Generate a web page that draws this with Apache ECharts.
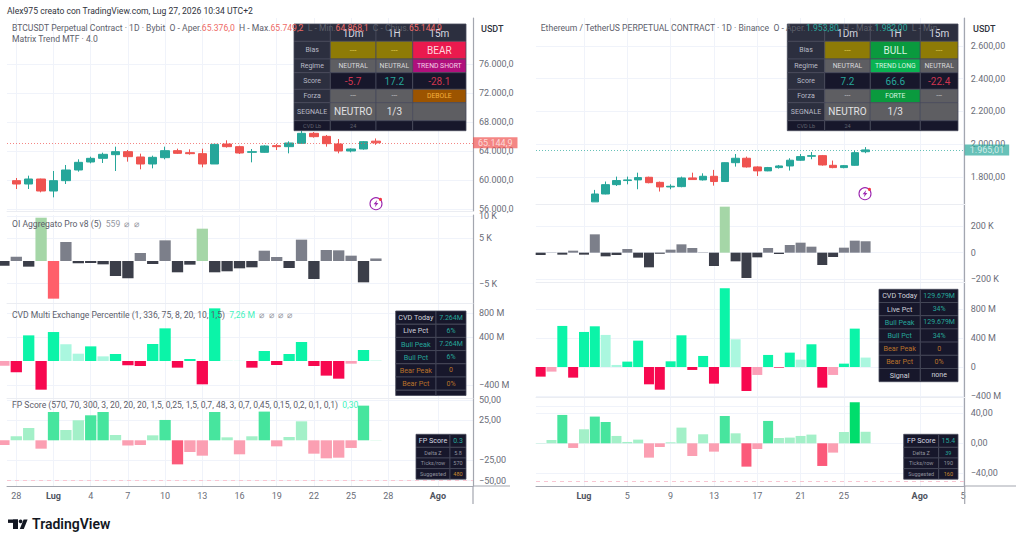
<!DOCTYPE html>
<html>
<head>
<meta charset="utf-8">
<title>BTCUSDT / ETHUSDT</title>
<script src="https://cdn.jsdelivr.net/npm/echarts@6/dist/echarts.min.js"></script>
<style>
  html, body { margin: 0; padding: 0; background: #fff; }
  #chart { width: 1024px; height: 544px; }
</style>
</head>
<body>
<div id="chart"></div>
<script>
// ---- Date axis ticks, counted in days from the first labelled day of each panel
const btcDateTicks = [0, 3, 6, 9, 12, 15, 18, 21, 24, 27, 30, 34];
const btcDateLabels = ['28', 'Lug', '4', '7', '10', '13', '16', '19', '22', '25', '28', 'Ago'];
const ethDateTicks = [0, 4, 8, 12, 16, 20, 24, 31, 35];
const ethDateLabels = ['Lug', '5', '9', '13', '17', '21', '25', 'Ago', '5'];

// ---- BTCUSDT daily candles [open, close, low, high], first candle is day 0
const btcCandles = [
  [59908, 59446, 58754, 60277],
  [59446, 60138, 58754, 60600],
  [60138, 58477, 58293, 60185],
  [58477, 59908, 57601, 61246],
  [59908, 61384, 59446, 62076],
  [61384, 62445, 61154, 62861],
  [62492, 62999, 62307, 63230],
  [62999, 63553, 62353, 63783],
  [63507, 63922, 61246, 64614],
  [63922, 63230, 62538, 64153],
  [63184, 62215, 61477, 63645],
  [62215, 63138, 61615, 63368],
  [63091, 64060, 62861, 64614],
  [64060, 63691, 63599, 64337],
  [63783, 63645, 63507, 64245],
  [63645, 62215, 61753, 64337],
  [62215, 64937, 62215, 64937],
  [64983, 64614, 64476, 65491],
  [64614, 63737, 63599, 64752],
  [63830, 63922, 62445, 64291],
  [63830, 64706, 63783, 64799],
  [64752, 64614, 64153, 64983],
  [64614, 65122, 63691, 65352],
  [65075, 66460, 65029, 66829],
  [66460, 65998, 65860, 66644],
  [66044, 65029, 64614, 66229],
  [64983, 64014, 63691, 65675],
  [64014, 64291, 63830, 64383],
  [64291, 65306, 64199, 65398],
  [65376.0, 65144.9, 64868.1, 65749.2]
];

// ---- ETHUSDT daily candles [open, close, low, high], first candle is day 1
const ethCandles = [
  [1648, 1696, 1648, 1721],
  [1696, 1753, 1694, 1772],
  [1753, 1778, 1745, 1802],
  [1778, 1782, 1755, 1802],
  [1782, 1796, 1725, 1826],
  [1798, 1765, 1761, 1802],
  [1767, 1739, 1711, 1772],
  [1739, 1743, 1725, 1755],
  [1741, 1794, 1737, 1802],
  [1794, 1784, 1782, 1826],
  [1782, 1804, 1778, 1822],
  [1804, 1772, 1747, 1843],
  [1772, 1887, 1770, 1889],
  [1887, 1914, 1863, 1940],
  [1914, 1861, 1857, 1924],
  [1861, 1837, 1806, 1865],
  [1837, 1857, 1835, 1861],
  [1857, 1867, 1851, 1873],
  [1867, 1902, 1839, 1914],
  [1902, 1924, 1898, 1940],
  [1926, 1930, 1908, 1952],
  [1930, 1873, 1869, 1934],
  [1871, 1857, 1853, 1900],
  [1857, 1869, 1853, 1873],
  [1871, 1948, 1869, 1961],
  [1953.80, 1965.01, 1945, 1982.00]
];

// ---- BTCUSDT indicator histograms, first bar is day -1
const btcOi = [-1030, 960, -1250, 9580, -8330, 4200, -500, -440, -740, -3320, -3830, 1770, -660, 4570, -2500, -810, 7150, -2500, -2280, -1620, -1400, 2280, 880, -1550, 4720, -3980, 2430, 2360, 1180, -4720, 559];
const btcCvd = [-80, -190, 431, -482, 487, 280, 123, 246, 78, 118, -73, -84, 286, 549, -112, 34, -392, 885, 4, 3, -112, 168, -67, 118, 319, -84, -246, -297, -45, 185, 7.26];
const btcCvdFaded = [0, 5, 6, 8, 18, 19, 28, 30];
const btcFp = [-5.8, 5, 15.3, -10.4, 35.2, 12.9, 24.9, 31.1, 35.2, 6.6, -6.6, -5.8, 6.2, 25.3, -29.9, -14.5, -19.1, 35.2, 3.7, -17.4, 5, 35.7, -7.5, 4.1, 23.6, -16.6, -22.4, -21.6, -9.5, 43.1, 0.30];

// ---- ETHUSDT indicator histograms, first bar is day -4
const ethOi = [-17.5, 2, -15, 15, -15, 137.5, -27.5, -17.5, 27.5, -37.5, -110, -8, 22.5, 62.5, 35, 2.5, -100, 345, -65, -190, -35, 35, -10, 57.5, 75, 45, -92.5, -32.5, 37.5, 90, 85.58];
const ethCvd = [-133, -64, 566, -147, 483, 561, 442, 28, 74, 363, -239, -313, 78, 437, -41, 152, -230, 1086, 382, -331, -110, 166, -9, 198, 101, 313, -285, -110, 46, 529, 129.68];
const ethCvdFaded = [1, 6, 7, 18, 20, 24, 27, 30];
const ethFp = [0.4, 4.4, 37.8, -6.2, 18.7, 35.6, 28.4, 9.8, 1.8, 4.9, -19.1, -4.9, 1.3, 20.9, -16.9, 12, -11.1, 36.4, 13.3, -31.1, -7.6, 29.8, 7.1, 7.6, 9.8, 11.6, -30.2, -12.4, 15.1, 54.7, 15.37];

// ---- Price scale tick values and labels
const btcPriceTicks = [76000, 72000, 68000, 64000, 60000, 56000];
const btcPriceLabels = ['76.000,0', '72.000,0', '68.000,0', '64.000,0', '60.000,0', '56.000,0'];
const btcOiTicks = [10000, 5000, -5000];
const btcOiLabels = ['10 K', '5 K', '\u22125 K'];
const btcCvdTicks = [800, 400, -400];
const btcCvdLabels = ['800 M', '400 M', '\u2212400 M'];
const btcFpTicks = [50, 25, -25, -50];
const btcFpLabels = ['50,00', '25,00', '\u221225,00', '\u221250,00'];
const ethPriceTicks = [2600, 2400, 2200, 2000, 1800];
const ethPriceLabels = ['2.600,00', '2.400,00', '2.200,00', '2.000,00', '1.800,00'];
const ethOiTicks = [200, 0, -200];
const ethOiLabels = ['200 K', '0', '\u2212200 K'];
const ethCvdTicks = [800, 400, 0, -400];
const ethCvdLabels = ['800 M', '400 M', '0', '\u2212400 M'];
const ethFpTicks = [40, 0, -40];
const ethFpLabels = ['40,00', '0,00', '\u221240,00'];
const ethFpGrid = [50, 40, 0, -40];

// ---- Status tables
const btcMatrix = [
  ['', '1Dm', '1H', '15m'],
  ['Bias', '---', '---', 'BEAR'],
  ['Regime', 'NEUTRAL', 'NEUTRAL', 'TREND SHORT'],
  ['Score', '-5.7', '17.2', '-28.1'],
  ['Forza', '---', '---', 'DEBOLE'],
  ['SEGNALE', 'NEUTRO', '1/3', ''],
  ['CVD Lb', '24', '', '']
];
const ethMatrix = [
  ['', '1Dm', '1H', '15m'],
  ['Bias', '---', 'BULL', '---'],
  ['Regime', 'NEUTRAL', 'TREND LONG', 'NEUTRAL'],
  ['Score', '7.2', '66.6', '-22.4'],
  ['Forza', '---', 'FORTE', '---'],
  ['SEGNALE', 'NEUTRO', '1/3', ''],
  ['CVD Lb', '24', '', '']
];
const btcCvdTable = [
  ['CVD Today', '7.264M'], ['Live Pct', '6%'], ['Bull Peak', '7.264M'],
  ['Bull Pct', '6%'], ['Bear Peak', '0'], ['Bear Pct', '0%'], ['', '']
];
const ethCvdTable = [
  ['CVD Today', '129.679M'], ['Live Pct', '34%'], ['Bull Peak', '129.679M'],
  ['Bull Pct', '34%'], ['Bear Peak', '0'], ['Bear Pct', '0%'], ['Signal', 'none']
];
const btcFpTable = [['FP Score', '0.3'], ['Delta Z', '5.8'], ['Ticks/row', '570'], ['Suggested', '480']];
const ethFpTable = [['FP Score', '15.4'], ['Delta Z', '39'], ['Ticks/row', '190'], ['Suggested', '160']];

// ---- Text
const FONT = 'Roboto, Inter, sans-serif';
const GREY = '#5d606b';
const UP = '#26a69a';
const DOWN = '#ef5350';
const AXIS_SIZE = 9;
const LEGEND_SIZE = 8.6;

const option = { animation: false, backgroundColor: '#fff', grid: [], xAxis: [], yAxis: [], series: [], graphic: [] };
const gfx = option.graphic;

function addPane(p) {
  const idx = option.grid.length;
  const m = p.frame;
  option.grid.push({ left: m.left, top: p.top, width: m.right - m.left, height: p.bottom - p.top });
  option.xAxis.push({
    type: 'value', gridIndex: idx, min: m.min, max: m.max, scale: true,
    axisLine: { show: true, onZero: false, lineStyle: { color: p.last ? '#a3a6af' : '#ebedf2', width: 1 } },
    axisTick: { show: false, customValues: m.ticks },
    splitLine: { show: true, lineStyle: { color: '#f0f3fa', width: 1 } },
    axisLabel: {
      show: !!p.last, customValues: m.ticks, margin: 5, fontFamily: FONT, fontSize: AXIS_SIZE, color: '#6a6d78',
      formatter: v => {
        const t = m.labels[m.ticks.indexOf(v)] || '';
        return t === 'Lug' || t === 'Ago' ? '{b|' + t + '}' : t;
      },
      rich: { b: { fontFamily: FONT, fontSize: AXIS_SIZE, fontWeight: 700, color: '#50535e' } }
    }
  });
  option.yAxis.push({
    type: 'value', gridIndex: idx, position: 'right', min: p.min, max: p.max, scale: true,
    axisLine: { show: true, onZero: false, lineStyle: { color: '#a3a6af', width: 1.2 } },
    axisTick: { show: false, customValues: p.grid || p.ticks },
    splitLine: { show: true, lineStyle: { color: '#f0f3fa', width: 1 } },
    axisLabel: {
      customValues: p.ticks, margin: 6, fontFamily: FONT, fontSize: AXIS_SIZE,
      color: v => (v === 60000 ? '#33363f' : '#6a6d78'),
      formatter: v => p.labels[p.ticks.indexOf(v)]
    }
  });
  return idx;
}

function badge(value, text, bg, fg) {
  return {
    yAxis: value,
    lineStyle: { opacity: 0 },
    label: {
      show: true, position: 'end', distance: 0, formatter: text, backgroundColor: bg, color: fg,
      fontFamily: FONT, fontSize: AXIS_SIZE, padding: [1, 5, 1, 5], lineHeight: 9
    }
  };
}

function candles(idx, rows, firstDay, width, lastBg, lastText) {
  const last = rows[rows.length - 1];
  option.series.push({
    type: 'candlestick', xAxisIndex: idx, yAxisIndex: idx, barWidth: width, silent: true,
    encode: { x: 0, y: [1, 2, 3, 4] },
    itemStyle: { color: UP, color0: DOWN, borderColor: UP, borderColor0: DOWN, borderWidth: 1 },
    data: rows.map((c, i) => [firstDay + i].concat(c)),
    markLine: {
      silent: true, symbol: 'none', animation: false, label: { show: false },
      data: [{
        yAxis: last[1],
        lineStyle: { type: [1, 2], color: lastBg, width: 1, opacity: 0.7 },
        label: {
          show: true, position: 'end', distance: 0, formatter: lastText, backgroundColor: lastBg, color: '#fff',
          fontFamily: FONT, fontSize: AXIS_SIZE, padding: [1, 5, 1, 5], lineHeight: 9
        }
      }]
    }
  });
}

function bars(idx, values, firstDay, width, colorOf, marks) {
  option.series.push({
    type: 'bar', xAxisIndex: idx, yAxisIndex: idx, barWidth: width, silent: true,
    data: values.map((v, i) => ({ value: [firstDay + i, v], itemStyle: { color: colorOf(v, i) } })),
    markLine: { silent: true, symbol: 'none', animation: false, label: { show: false }, data: marks }
  });
}

const oiColor = limit => v => v > limit ? '#a5d6a7' : v < -limit ? '#ff5f6a' : v >= 0 ? '#7c7f8a' : '#3b3e49';
const cvdColor = faded => (v, i) => faded.includes(i)
  ? (v >= 0 ? '#aaf7df' : '#fba0b8')
  : (v >= 0 ? '#0bf4a8' : '#f7084f');
const fpColor = v => v >= 50 ? '#00dd6c' : v >= 25 ? '#47e59e' : v >= 0 ? '#a3f0c8' : v <= -25 ? '#fb5a7a' : '#fb9fb2';
const fpFloor = () => ({ yAxis: -50, lineStyle: { type: [4, 4], color: '#f8c6d2', width: 1 } });

// ---- Left panel: BTCUSDT
const btcFrame = { left: 7, right: 473, min: -0.75, max: 36.83, ticks: btcDateTicks, labels: btcDateLabels };
const btcPrice = addPane({ frame: btcFrame, top: 18, bottom: 211, min: 55709, max: 82422, ticks: btcPriceTicks, labels: btcPriceLabels });
candles(btcPrice, btcCandles, 0, 9, DOWN, '65.144,9');
const btcOiPane = addPane({ frame: btcFrame, top: 215, bottom: 303, min: -9292, max: 10177, ticks: btcOiTicks, labels: btcOiLabels });
bars(btcOiPane, btcOi, -1, 11.3, oiColor(5000), [badge(559, '559', '#7c7f8a', '#fff')]);
const btcCvdPane = addPane({ frame: btcFrame, top: 303, bottom: 398, min: -622, max: 975, ticks: btcCvdTicks, labels: btcCvdLabels });
bars(btcCvdPane, btcCvd, -1, 11.3, cvdColor(btcCvdFaded), [badge(7.26, '7,26 M', '#0bf4a8', '#17323a')]);
const btcFpPane = addPane({ frame: btcFrame, top: 398, bottom: 486, min: -56.8, max: 52.6, ticks: btcFpTicks, labels: btcFpLabels, last: true });
bars(btcFpPane, btcFp, -1, 11.3, fpColor, [fpFloor(), badge(0.30, '0,30', '#00dd6c', '#17323a')]);

// ---- Right panel: ETHUSDT
const ethFrame = { left: 536, right: 964.7, min: -4.43, max: 35.15, ticks: ethDateTicks, labels: ethDateLabels };
const ethPrice = addPane({ frame: ethFrame, top: 18, bottom: 204, min: 1635, max: 2769.5, ticks: ethPriceTicks, labels: ethPriceLabels });
candles(ethPrice, ethCandles, 1, 8, UP, '1.965,01');
const ethOiPane = addPane({ frame: ethFrame, top: 204, bottom: 282, min: -220, max: 365, ticks: ethOiTicks, labels: ethOiLabels });
bars(ethOiPane, ethOi, -4, 10, oiColor(250), [badge(85.58, '85,58 K', '#7c7f8a', '#fff')]);
const ethCvdPane = addPane({ frame: ethFrame, top: 282, bottom: 397, min: -414, max: 1172, ticks: ethCvdTicks, labels: ethCvdLabels });
bars(ethCvdPane, ethCvd, -4, 10, cvdColor(ethCvdFaded), [badge(129.68, '129,68 M', '#0bf4a8', '#17323a')]);
const ethFpPane = addPane({ frame: ethFrame, top: 397, bottom: 486, min: -56.9, max: 61.7, ticks: ethFpTicks, labels: ethFpLabels, grid: ethFpGrid, last: true });
bars(ethFpPane, ethFp, -4, 10, fpColor, [fpFloor(), badge(15.37, '15,37', '#00dd6c', '#17323a')]);

// ---- Overlay helpers
function text(x, y, content, size, fill, extra) {
  gfx.push({
    type: 'text', x, y, z: (extra && extra.z) || 30, silent: true,
    style: Object.assign({
      text: content, fill, fontFamily: FONT, fontSize: size,
      fontWeight: (extra && extra.weight) || 400,
      textAlign: (extra && extra.align) || 'left', textVerticalAlign: 'middle'
    }, (extra && extra.rich) ? { rich: extra.rich } : {})
  });
}
function box(x, y, w, h, fill, stroke) {
  gfx.push({
    type: 'rect', z: 20, silent: true, shape: { x, y, width: w, height: h },
    style: { fill, stroke: stroke || '#474a5a', lineWidth: 0.8 }
  });
}
function line(x1, y1, x2, y2, color, w) {
  gfx.push({ type: 'line', z: 10, silent: true, shape: { x1, y1, x2, y2 }, style: { stroke: color, lineWidth: w } });
}

const NAVY = '#17172b';
const SLATE = '#2c2f3f';
const ASH = '#5e5e62';

// Colours and sizes of one cell of the multi-timeframe table
function matrixStyle(row, col, t) {
  const name = row[0];
  if (col === 0) return { bg: name === 'CVD Lb' ? NAVY : SLATE, fg: name === 'CVD Lb' ? '#62646f' : '#b9bbc6', size: name === 'CVD Lb' ? 5.5 : 7 };
  if (name === '') return { bg: SLATE, fg: '#d6d8e0', size: 10 };
  if (name === 'Bias') {
    if (t === 'BEAR') return { bg: '#ea1a4e', fg: '#ffd5de', size: 10 };
    if (t === 'BULL') return { bg: '#0a9a3e', fg: '#d8f5e0', size: 10 };
    return { bg: '#8e7b06', fg: '#e3d25a', size: 8 };
  }
  if (name === 'Regime') {
    if (t === 'TREND SHORT') return { bg: '#b0107c', fg: '#f5d0e8', size: 6.8 };
    if (t === 'TREND LONG') return { bg: '#0ab352', fg: '#d8f5e0', size: 6.8 };
    return { bg: ASH, fg: '#d8d8da', size: 6.8 };
  }
  if (name === 'Score') return { bg: NAVY, fg: t.charAt(0) === '-' ? '#cf3550' : UP, size: 10 };
  if (name === 'Forza') {
    if (t === 'DEBOLE') return { bg: '#9c5400', fg: '#f4b03c', size: 6.8 };
    if (t === 'FORTE') return { bg: '#0a9a3e', fg: '#d8f5e0', size: 6.8 };
    return { bg: ASH, fg: '#c8c8ca', size: 7 };
  }
  if (name === 'SEGNALE') return { bg: ASH, fg: '#e2e2e4', size: 10 };
  return { bg: NAVY, fg: '#62646f', size: 5.5 };
}

function matrixTable(rows, cols, lines) {
  rows.forEach((row, r) => {
    row.forEach((t, c) => {
      const s = matrixStyle(row, c, t);
      box(cols[c], lines[r], cols[c + 1] - cols[c], lines[r + 1] - lines[r], s.bg);
      if (t) text((cols[c] + cols[c + 1]) / 2, (lines[r] + lines[r + 1]) / 2 + (r === 0 ? 1 : 0), t, s.size, s.fg, { align: 'center', z: 26 });
    });
  });
}

function sideStyle(name, isValue, t) {
  if (name === 'CVD Today' || name === 'Live Pct' || name === 'Signal') return isValue && name !== 'Signal' ? UP : '#cfd1da';
  if (name.indexOf('Bull') === 0) return UP;
  if (name.indexOf('Bear') === 0) return '#b9722a';
  return t === '' ? NAVY : '#cfd1da';
}
function sideTable(rows, x0, x1, x2, y0, rowH, height) {
  rows.forEach((row, r) => {
    const y = y0 + r * rowH;
    const h = Math.min(rowH, y0 + height - y);
    box(x0, y, x1 - x0, h, NAVY);
    box(x1, y, x2 - x1, h, NAVY);
    if (row[0]) {
      text((x0 + x1) / 2, y + h / 2, row[0], 7.2, sideStyle(row[0], false), { align: 'center', z: 26 });
      text((x1 + x2) / 2, y + h / 2, row[1], 7, sideStyle(row[0], true), { align: 'center', z: 26 });
    }
  });
}
function scoreTable(rows, x0, x1, x2, y0, rowHeights) {
  let y = y0;
  rows.forEach((row, r) => {
    const h = rowHeights[r];
    box(x0, y, x1 - x0, h, NAVY);
    box(x1, y, x2 - x1, h, NAVY);
    const head = r === 0;
    text((x0 + x1) / 2, y + h / 2, row[0], head ? 7.2 : 5.5, head ? '#d6d8e0' : '#8e909c', { align: 'center', z: 26 });
    const valueColor = head || row[0] === 'Delta Z' && row[1] === '39' ? UP : row[0] === 'Suggested' ? '#c98a2e' : '#8e909c';
    text((x1 + x2) / 2, y + h / 2, row[1], head ? 7 : 5.5, valueColor, { align: 'center', z: 26 });
    y += h;
  });
}

function icon(cx, cy) {
  gfx.push({ type: 'circle', z: 12, silent: true, shape: { cx, cy, r: 6 }, style: { fill: '#fff', stroke: '#9c27b0', lineWidth: 1.1 } });
  gfx.push({
    type: 'polygon', z: 13, silent: true,
    shape: { points: [[cx + 1.2, cy - 3.6], [cx - 2.4, cy + 0.6], [cx - 0.3, cy + 0.6], [cx - 1.2, cy + 3.6], [cx + 2.4, cy - 0.8], [cx + 0.3, cy - 0.8]] },
    style: { fill: '#9c27b0' }
  });
  gfx.push({ type: 'circle', z: 14, silent: true, shape: { cx: cx + 4.4, cy: cy - 4.4, r: 1.6 }, style: { fill: '#f23645' } });
}

// ---- Tables
const matrixLines = [24, 41.3, 59, 72.7, 89.3, 102.7, 120.7, 130.7];
matrixTable(btcMatrix, [294, 330.3, 376, 412.7, 466], matrixLines);
matrixTable(ethMatrix, [787.3, 824.7, 870.3, 920.3, 958], matrixLines);
sideTable(btcCvdTable, 395.7, 436, 466, 311, 13.2, 84.5);
sideTable(ethCvdTable, 879, 920.3, 958, 289.3, 13.2, 92.4);
scoreTable(btcFpTable, 416, 450, 466, 434.3, [13, 10.7, 10.6, 10.6]);
scoreTable(ethFpTable, 903.7, 938.7, 958, 434.3, [13, 10.7, 10.6, 10.6]);

// ---- Axis extensions below the last pane
line(473, 486, 473, 504, '#a3a6af', 1.2);
line(964.7, 486, 964.7, 504, '#a3a6af', 1.2);
line(473, 486, 510, 486, '#a3a6af', 1);
line(964.7, 486, 1016, 486, '#a3a6af', 1);

// ---- Headings and legends
const legendRich = {
  g: { fill: GREY, fontFamily: FONT, fontSize: LEGEND_SIZE },
  r: { fill: '#ee6a66', fontFamily: FONT, fontSize: LEGEND_SIZE },
  t: { fill: '#2aa79b', fontFamily: FONT, fontSize: LEGEND_SIZE },
  m: { fill: '#3ff2bd', fontFamily: FONT, fontSize: LEGEND_SIZE },
  s: { fill: '#9598a1', fontFamily: FONT, fontSize: LEGEND_SIZE }
};
text(7, 10.5, 'Alex975 creato con TradingView.com, Lug 27, 2026 10:34 UTC+2', LEGEND_SIZE, '#30333c');
text(481, 29, 'USDT', AXIS_SIZE, '#30333c', { weight: 500 });
text(973, 29, 'USDT', AXIS_SIZE, '#30333c', { weight: 500 });

text(12, 28, '{g|BTCUSDT Perpetual Contract \u00b7 1D \u00b7 Bybit  O - Aper.}{r|65.376,0}{g|  H - Max.}{r|65.749,2}{g|  L - Min.}{r|64.868,1}{g|  C - Chius.}{r|65.144,9}', LEGEND_SIZE, GREY, { rich: legendRich });
text(12, 39, 'Matrix Trend MTF \u00b7 4.0', LEGEND_SIZE, GREY);
text(12, 223.5, '{g|OI Aggregato Pro v8 (5)}{s|  559  \u2300  \u2300}', LEGEND_SIZE, GREY, { rich: legendRich });
text(12, 314.7, '{g|CVD Multi Exchange Percentile (1, 336, 75, 8, 20, 10, 1,5)}{m|  7,26 M}{s|  \u2300  \u2300  \u2300  \u2300}', LEGEND_SIZE, GREY, { rich: legendRich });
text(12, 405.3, '{g|FP Score (570, 70, 300, 3, 20, 20, 20, 1,5, 0,25, 1,5, 0,7, 48, 3, 0,7, 0,45, 0,15, 0,2, 0,1, 0,1)}{m|  0,30}', LEGEND_SIZE, GREY, { rich: legendRich });
text(540.7, 28, '{g|Ethereum / TetherUS PERPETUAL CONTRACT \u00b7 1D \u00b7 Binance  O - Aper.}{t|1.953,80}{g|  H - Max.}{t|1.982,00}{g|  L - Min.}', LEGEND_SIZE, GREY, { rich: legendRich });

// ---- Small bolt markers
icon(376, 203.7);
icon(865, 193.7);

// ---- Brand mark
gfx.push({ type: 'rect', z: 12, silent: true, shape: { x: 8, y: 519.5, width: 10, height: 3.4 }, style: { fill: '#131722' } });
gfx.push({ type: 'rect', z: 12, silent: true, shape: { x: 13, y: 519.5, width: 5, height: 9.5 }, style: { fill: '#131722' } });
gfx.push({ type: 'circle', z: 12, silent: true, shape: { cx: 20.6, cy: 521.3, r: 1.9 }, style: { fill: '#131722' } });
gfx.push({ type: 'polygon', z: 12, silent: true, shape: { points: [[23.6, 519.5], [27.6, 519.5], [23.8, 529], [19.8, 529]] }, style: { fill: '#131722' } });
text(32, 524, 'TradingView', 14, '#131722', { weight: 600 });

echarts.init(document.getElementById('chart'), null, { renderer: 'svg' }).setOption(option);
</script>
</body>
</html>
